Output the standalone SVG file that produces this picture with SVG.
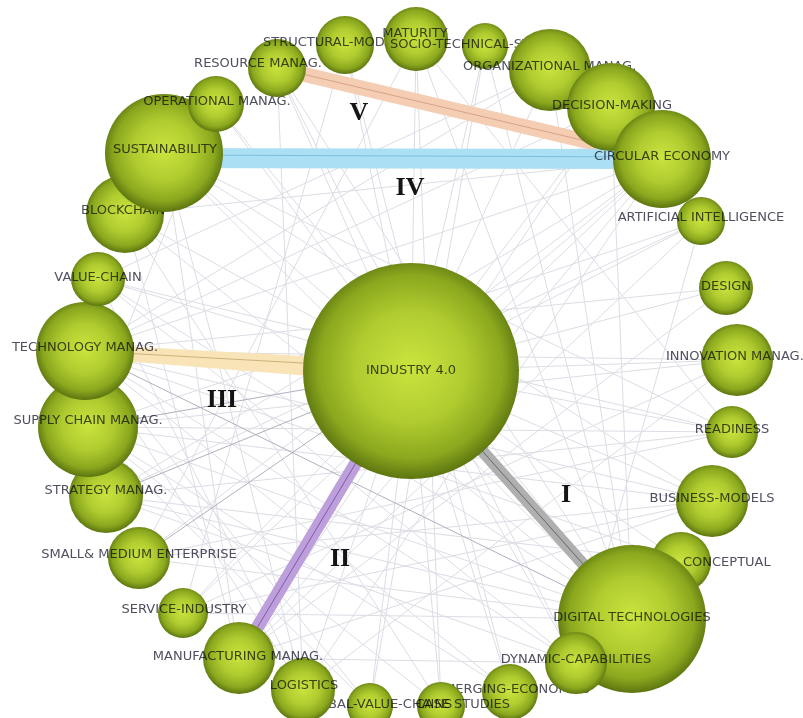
<svg xmlns="http://www.w3.org/2000/svg" width="803" height="718" viewBox="0 0 803 718">
  <defs>
    <radialGradient id="ball" cx="50%" cy="48%" r="52%">
      <stop offset="0%" stop-color="#cbe43e"/>
      <stop offset="50%" stop-color="#afcb2f"/>
      <stop offset="82%" stop-color="#8aa71e"/>
      <stop offset="100%" stop-color="#5c7510"/>
    </radialGradient>
    <style>
      .n { fill: url(#ball); }
      .lb { font-family: "DejaVu Sans", "Liberation Sans", sans-serif; font-size: 13px; fill: #50505f; text-anchor: middle; dominant-baseline: central; mix-blend-mode: multiply; }
      .ls { text-anchor: start; }
      .le { text-anchor: end; }
      .thin { fill: none; stroke: #dcdce5; stroke-width: 1; }
      .mid { fill: none; stroke: #b0b0bf; stroke-width: 1; }
      .band { fill: none; stroke-linecap: butt; }
      .core { fill: none; stroke-width: 1; }
      .rn { font-family: "Liberation Serif", "Times New Roman", serif; font-weight: bold; font-size: 26px; fill: #141414; text-anchor: middle; dominant-baseline: central; }
    </style>
  </defs>

  <rect width="803" height="718" fill="#ffffff"/>

  <!-- connectors -->
  <g id="connectors">
    <!-- faint co-occurrence links -->
    <path class="thin" d="
      M411 371 L164 153 M411 371 L216 104 M411 371 L277 68 M411 371 L345 45 M411 371 L416 39
      M411 371 L485 46 M411 371 L550 70 M411 371 L611 107 M411 371 L662 159 M411 371 L701 221
      M411 371 L726 288 M411 371 L737 360 M411 371 L732 432 M411 371 L712 501 M411 371 L681 562
      M411 371 L576 663 M411 371 L510 692 M411 371 L441 706 M411 371 L370 706 M411 371 L303 690
      M411 371 L183 613 M411 371 L98 279 M411 371 L125 214
      M164 153 L632 619 M164 153 L732 432 M164 153 L712 501 M164 153 L239 658 M164 153 L303 690
      M662 159 L125 214 M662 159 L85 351 M662 159 L239 658 M662 159 L303 690 M662 159 L139 558
      M662 159 L106 496 M611 107 L85 351 M611 107 L239 658 M611 107 L632 619 M550 70 L85 351
      M550 70 L632 619 M550 70 L98 279 M416 39 L632 619 M416 39 L732 432 M416 39 L139 558
      M416 39 L441 706 M216 104 L632 619 M216 104 L88 427 M277 68 L303 690 M277 68 L632 619
      M277 68 L576 663 M345 45 L183 613 M345 45 L510 692 M485 46 L632 619 M485 46 L370 706
      M701 221 L88 427 M701 221 L106 496 M701 221 L239 658 M701 221 L576 663 M726 288 L85 351
      M726 288 L239 658 M737 360 L85 351 M737 360 L88 427 M737 360 L303 690 M737 360 L183 613
      M732 432 L106 496 M732 432 L139 558 M732 432 L98 279 M712 501 L85 351 M712 501 L88 427
      M712 501 L183 613 M712 501 L239 658 M681 562 L106 496 M681 562 L85 351 M632 619 L88 427
      M632 619 L106 496 M632 619 L139 558 M632 619 L183 613 M632 619 L98 279 M632 619 L125 214
      M576 663 L106 496 M576 663 L239 658 M576 663 L85 351 M510 692 L85 351 M510 692 L88 427
      M441 706 L88 427 M441 706 L125 214 M370 706 L88 427 M370 706 L85 351 M303 690 L85 351
      M303 690 L98 279 M125 214 L239 658 M98 279 L576 663 M139 558 L712 501 M183 613 L662 159
      M88 427 L732 432"/>
    <!-- stronger links -->
    <path class="mid" d="M85 351 L632 619 M88 427 L411 371 M139 558 L411 371 M106 496 L411 371"/>

    <!-- V: resource management - circular economy -->
    <path class="band" stroke="#f4cdb3" stroke-width="15" d="M277 68 L662 159"/>
    <path class="core" stroke="#d9a387" d="M277 68 L662 159"/>
    <!-- IV: sustainability - circular economy -->
    <path class="band" stroke="#abdff3" stroke-width="20" d="M164 158 L662 159"/>
    <path class="core" stroke="#7cbfda" d="M164 155 L662 157"/>
    <!-- III: technology management - industry 4.0 -->
    <path fill="#f8e4b6" d="M85 344 L411 362 L411 384 L85 358 Z"/>
    <path class="core" stroke="#cbb27c" d="M85 351 L411 369"/>
    <!-- II: industry 4.0 - manufacturing management -->
    <path class="band" stroke="#bd9fdc" stroke-width="13" d="M411 371 L239 658"/>
    <path class="core" stroke="#7f5aa8" d="M411 371 L239 658"/>
    <!-- I: industry 4.0 - digital technologies -->
    <path class="band" stroke="#afafaf" stroke-width="12" d="M411 371 L632 619"/>
    <path class="core" stroke="#666666" d="M411 371 L632 619"/>
  </g>

  <!-- cluster labels -->
  <g id="cluster-labels">
    <text class="rn" x="359" y="111">V</text>
    <text class="rn" x="410" y="186">IV</text>
    <text class="rn" x="222" y="398">III</text>
    <text class="rn" x="340" y="557">II</text>
    <text class="rn" x="566" y="493">I</text>
  </g>

  <!-- nodes -->
  <g id="n-emerging"><circle class="n" cx="510" cy="692" r="28"/><text class="lb le" x="590" y="688">EMERGING-ECONOMIES</text></g>
  <g id="n-case"><circle class="n" cx="441" cy="706" r="24"/><text class="lb le" x="510" y="703">CASE STUDIES</text></g>
  <g id="n-global"><circle class="n" cx="370" cy="706" r="23"/><text class="lb ls" x="301" y="703">GLOBAL-VALUE-CHAINS</text></g>
  <g id="n-logistics"><circle class="n" cx="303" cy="690" r="32"/><text class="lb" x="304" y="684">LOGISTICS</text></g>
  <g id="n-manufacturing"><circle class="n" cx="239" cy="658" r="36"/><text class="lb" x="238" y="655">MANUFACTURING MANAG.</text></g>
  <g id="n-service"><circle class="n" cx="183" cy="613" r="25"/><text class="lb" x="184" y="608">SERVICE-INDUSTRY</text></g>
  <g id="n-sme"><circle class="n" cx="139" cy="558" r="31"/><text class="lb" x="139" y="553">SMALL&amp; MEDIUM ENTERPRISE</text></g>
  <g id="n-strategy"><circle class="n" cx="106" cy="496" r="37"/><text class="lb" x="106" y="489">STRATEGY MANAG.</text></g>
  <g id="n-supply"><circle class="n" cx="88" cy="427" r="50"/><text class="lb" x="88" y="419">SUPPLY CHAIN MANAG.</text></g>
  <g id="n-technology"><circle class="n" cx="85" cy="351" r="49"/><text class="lb" x="85" y="346">TECHNOLOGY MANAG.</text></g>
  <g id="n-valuechain"><circle class="n" cx="98" cy="279" r="27"/><text class="lb" x="98" y="276">VALUE-CHAIN</text></g>
  <g id="n-blockchain"><circle class="n" cx="125" cy="214" r="39"/><text class="lb ls" x="81" y="209">BLOCKCHAIN</text></g>
  <g id="n-sustainability"><circle class="n" cx="164" cy="153" r="59"/><text class="lb" x="165" y="148">SUSTAINABILITY</text></g>
  <g id="n-operational"><circle class="n" cx="216" cy="104" r="28"/><text class="lb" x="217" y="100">OPERATIONAL MANAG.</text></g>
  <g id="n-resource"><circle class="n" cx="277" cy="68" r="29"/><text class="lb" x="258" y="62">RESOURCE MANAG.</text></g>
  <g id="n-structural"><circle class="n" cx="345" cy="45" r="29"/><text class="lb ls" x="263" y="41">STRUCTURAL-MODELING</text></g>
  <g id="n-maturity"><circle class="n" cx="416" cy="39" r="32"/><text class="lb" x="415" y="32">MATURITY</text></g>
  <g id="n-sociotechnical"><circle class="n" cx="485" cy="46" r="23"/><text class="lb ls" x="390" y="43">SOCIO-TECHNICAL-SYSTEMS</text></g>
  <g id="n-organizational"><circle class="n" cx="550" cy="70" r="41"/><text class="lb ls" x="463" y="65">ORGANIZATIONAL MANAG.</text></g>
  <g id="n-decision"><circle class="n" cx="611" cy="107" r="44"/><text class="lb" x="612" y="104">DECISION-MAKING</text></g>
  <g id="n-circular"><circle class="n" cx="662" cy="159" r="49"/><text class="lb" x="662" y="155">CIRCULAR ECONOMY</text></g>
  <g id="n-ai"><circle class="n" cx="701" cy="221" r="24"/><text class="lb" x="701" y="216">ARTIFICIAL INTELLIGENCE</text></g>
  <g id="n-design"><circle class="n" cx="726" cy="288" r="27"/><text class="lb" x="726" y="285">DESIGN</text></g>
  <g id="n-innovation"><circle class="n" cx="737" cy="360" r="36"/><text class="lb ls" x="666" y="355">INNOVATION MANAG.</text></g>
  <g id="n-readiness"><circle class="n" cx="732" cy="432" r="26"/><text class="lb" x="732" y="428">READINESS</text></g>
  <g id="n-business"><circle class="n" cx="712" cy="501" r="36"/><text class="lb" x="712" y="497">BUSINESS-MODELS</text></g>
  <g id="n-conceptual"><circle class="n" cx="681" cy="562" r="30"/><text class="lb ls" x="683" y="561">CONCEPTUAL</text></g>
  <g id="n-digital"><circle class="n" cx="632" cy="619" r="74"/><text class="lb" x="632" y="616">DIGITAL TECHNOLOGIES</text></g>
  <g id="n-dynamic"><circle class="n" cx="576" cy="663" r="31"/><text class="lb" x="576" y="658">DYNAMIC-CAPABILITIES</text></g>
  <g id="n-industry"><circle class="n" cx="411" cy="371" r="108"/><text class="lb" x="411" y="369">INDUSTRY 4.0</text></g>
</svg>
